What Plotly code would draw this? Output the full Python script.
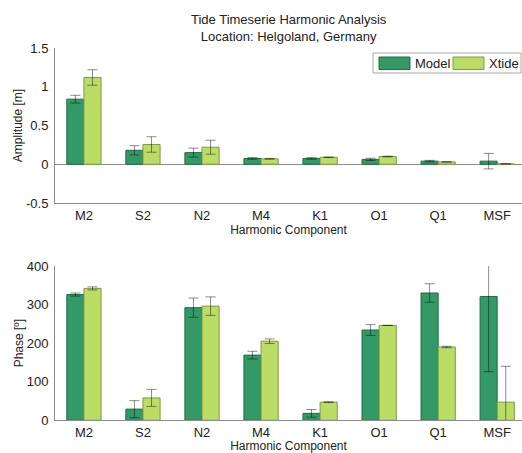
import plotly.graph_objects as go

components = ["M2", "S2", "N2", "M4", "K1", "O1", "Q1", "MSF"]

model_amp = [0.84, 0.18, 0.15, 0.075, 0.075, 0.063, 0.04, 0.04]
model_amp_err = [0.05, 0.06, 0.058, 0.01, 0.01, 0.015, 0.01, 0.10]
xtide_amp = [1.12, 0.255, 0.22, 0.07, 0.09, 0.10, 0.03, 0.005]
xtide_amp_err = [0.10, 0.10, 0.09, 0.005, 0.003, 0.005, 0.002, 0.0]

model_phase = [326, 29, 292, 169, 18, 234, 330, 321]
model_phase_err = [4, 22, 25, 10, 10, 14, 24, 195]
xtide_phase = [342, 58, 296, 205, 47, 246, 190, 47]
xtide_phase_err = [4, 22, 24, 6, 1, 0, 2, 93]

C_MODEL = "#339966"
C_XTIDE = "#bbdd66"
E_MODEL = "#1e6e46"
E_XTIDE = "#7f9a45"
ERR = "rgba(0,0,0,0.45)"
AXC = "#8c8c8c"
FONT = "Liberation Sans, Arial, sans-serif"

def bar(y, err, color, edge, name, xa, ya):
    return go.Bar(
        x=components, y=y, name=name, xaxis=xa, yaxis=ya,
        marker=dict(color=color, line=dict(color=edge, width=1)),
        error_y=dict(type="data", array=err, visible=True, color=ERR,
                     thickness=1, width=5),
        showlegend=False,
    )

fig = go.Figure()
fig.add_trace(bar(model_amp, model_amp_err, C_MODEL, E_MODEL, "Model", "x", "y"))
fig.add_trace(bar(xtide_amp, xtide_amp_err, C_XTIDE, E_XTIDE, "Xtide", "x", "y"))
fig.add_trace(bar(model_phase, model_phase_err, C_MODEL, E_MODEL, "Model", "x2", "y2"))
fig.add_trace(bar(xtide_phase, xtide_phase_err, C_XTIDE, E_XTIDE, "Xtide", "x2", "y2"))

W, H = 522, 453
def px(v):
    return v / W
def py(v):
    return 1 - v / H

xrange_ = [-0.49, 7.42]
xcommon = dict(type="category", range=xrange_, showline=True, linecolor=AXC,
               linewidth=1, ticks="", showgrid=False, zeroline=False, automargin=False,
               tickfont=dict(size=13, color="#222"),
               title=dict(text="Harmonic Component", font=dict(size=12, color="#222"), standoff=3))
ycommon = dict(showline=True, linecolor=AXC, linewidth=1, ticks="", showgrid=False,
               automargin=False, tickfont=dict(size=13, color="#222"), ticklabelstandoff=3)

fig.update_layout(
    width=W, height=H,
    margin=dict(l=0, r=0, t=0, b=0),
    paper_bgcolor="white", plot_bgcolor="white",
    font=dict(family=FONT, color="#222"),
    barmode="group", bargap=0.42, bargroupgap=0,
    xaxis=dict(**xcommon, domain=[px(55), 1.0], anchor="y"),
    yaxis=dict(**ycommon, domain=[py(203), py(48)], range=[-0.5, 1.5],
               tickvals=[-0.5, 0, 0.5, 1, 1.5], ticktext=["-0.5", "0", "0.5", "1", "1.5"],
               zeroline=True, zerolinecolor=AXC, zerolinewidth=1,
               title=dict(text="Amplitude [m]", font=dict(size=12, color="#222"), standoff=0),
               anchor="x"),
    xaxis2=dict(**xcommon, domain=[px(55), 1.0], anchor="y2"),
    yaxis2=dict(**ycommon, domain=[py(420.3), py(266)], range=[0, 400],
                tickvals=[0, 100, 200, 300, 400], zeroline=False,
                title=dict(text="Phase [º]", font=dict(size=12, color="#222"), standoff=0),
                anchor="x2"),
    showlegend=False,
)

# Title
fig.add_annotation(x=px(289), y=py(10), xref="paper", yref="paper",
                   text="Tide Timeserie Harmonic Analysis<br>Location: Helgoland, Germany",
                   showarrow=False, xanchor="center", yanchor="top",
                   font=dict(size=13, color="#222"), align="center")

# Custom legend (box, swatches, labels)
fig.add_shape(type="rect", xref="paper", yref="paper",
              x0=px(373), x1=px(521), y0=py(73), y1=py(53),
              line=dict(color="#aaaaaa", width=1), fillcolor="white", layer="above")
fig.add_shape(type="rect", xref="paper", yref="paper",
              x0=px(379), x1=px(410), y0=py(69.5), y1=py(57),
              line=dict(color=E_MODEL, width=1), fillcolor=C_MODEL, layer="above")
fig.add_shape(type="rect", xref="paper", yref="paper",
              x0=px(453), x1=px(484), y0=py(69.5), y1=py(57),
              line=dict(color=E_XTIDE, width=1), fillcolor=C_XTIDE, layer="above")
fig.add_annotation(x=px(413), y=py(63.5), xref="paper", yref="paper", text="Model",
                   showarrow=False, xanchor="left", yanchor="middle",
                   font=dict(size=13, color="#222"))
fig.add_annotation(x=px(487), y=py(63.5), xref="paper", yref="paper", text="Xtide",
                   showarrow=False, xanchor="left", yanchor="middle",
                   font=dict(size=13, color="#222"))

fig.write_html("out.html")
